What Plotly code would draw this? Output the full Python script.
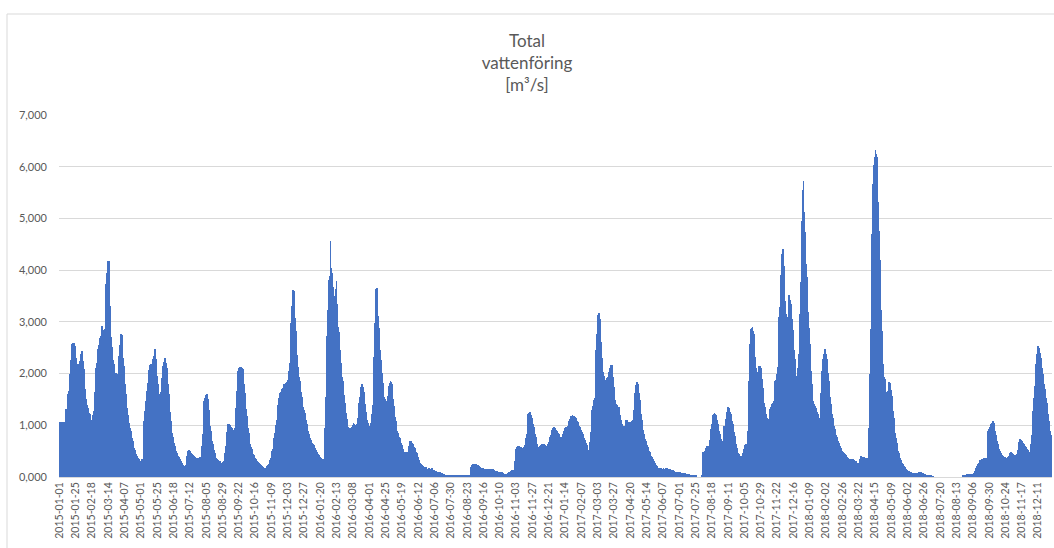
import pandas as pd
import plotly.graph_objects as go

# Daily total discharge [m3/s], one list per calendar year (10 days per row)
flow_2015 = [
    1060, 1060, 1060, 1060, 1060, 1060, 1060, 1060, 1060, 1060,
    1310, 1310, 1535, 1600, 1665, 1830, 2000, 2270, 2535, 2580,
    2600, 2600, 2600, 2535, 2420, 2310, 2180, 2050, 2120, 2180,
    2250, 2310, 2380, 2440, 2340, 2245, 2080, 1920, 1710, 1500,
    1450, 1400, 1330, 1265, 1240, 1210, 1150, 1085, 1100, 1115,
    1200, 1280, 1640, 1990, 2100, 2210, 2340, 2470, 2550, 2630,
    2680, 2730, 2820, 2920, 2840, 2760, 2810, 2860, 3300, 3730,
    3940, 4150, 4180, 4180, 3750, 3310, 2700, 2520, 2340, 2260,
    2180, 2100, 2020, 2010, 2000, 1995, 1990, 2160, 2340, 2550,
    2760, 2760, 2750, 2530, 2310, 2150, 1990, 1800, 1600, 1470,
    1340, 1200, 1050, 1000, 955, 890, 825, 760, 700, 630,
    570, 520, 470, 440, 405, 380, 360, 340, 320, 300,
    280, 310, 340, 350, 360, 1085, 1280, 1470, 1570, 1665,
    1810, 1955, 2060, 2170, 2170, 2180, 2180, 2230, 2290, 2340,
    2400, 2470, 2290, 2115, 1950, 1795, 1700, 1600, 1490, 1375,
    1650, 1920, 2040, 2150, 2230, 2300, 2300, 2200, 2115, 1950,
    1795, 1600, 1405, 1250, 1085, 970, 860, 780, 700, 650,
    600, 550, 505, 470, 440, 415, 390, 365, 340, 310,
    280, 260, 240, 215, 200, 180, 230, 280, 400, 505,
    510, 515, 500, 490, 470, 450, 440, 425, 415, 405,
    390, 375, 370, 360, 370, 375, 380, 390, 380, 375,
    600, 825, 1150, 1470, 1520, 1570, 1590, 1600, 1550, 1505,
    1300, 1085, 990, 890, 800, 700, 630, 570, 520, 470,
    390, 365, 340, 325, 310, 305, 300, 290, 280, 270,
    260, 285, 310, 390, 470, 590, 700, 870, 1030, 1025,
    1020, 1000, 985, 970, 955, 910, 860, 910, 955, 1150,
    1340, 1660, 1990, 2050, 2115, 2120, 2130, 2130, 2130, 2110,
    2085, 1940, 1795, 1630, 1470, 1320, 1180, 1070, 955, 860,
    760, 630, 580, 535, 490, 450, 420, 390, 365, 340,
    325, 310, 295, 280, 270, 260, 245, 230, 220, 215,
    200, 180, 175, 170, 180, 195, 210, 230, 255, 280,
    330, 375, 440, 505, 550, 640, 760, 850, 900, 1000,
    1100, 1250, 1400, 1530, 1580, 1620, 1650, 1670, 1695, 1730,
    1760, 1790, 1800, 1810, 1830, 1845, 1880, 1910, 2050, 2200,
    2600, 2980, 3300, 3625, 3610, 3590, 3330, 3075, 2830, 2590,
    2360, 2135, 2040, 1940, 1850, 1750, 1650, 1555, 1460, 1360,
    1300, 1230, 1160, 1100, 1020,
]

flow_2016 = [
    940, 890, 840, 790, 745, 710, 680, 660, 645, 630,
    615, 570, 545, 520, 490, 465, 440, 420, 405, 390,
    370, 355, 345, 335, 345, 355, 950, 1555, 2140, 2720,
    3220, 3720, 3800, 3885, 4560, 4045, 3950, 3850, 3670, 3495,
    3495, 3495, 3640, 3785, 3350, 2910, 2810, 2720, 2460, 2200,
    2070, 1940, 1850, 1750, 1590, 1425, 1330, 1230, 1130, 1035,
    970, 905, 920, 940, 945, 950, 970, 1010, 1050, 1030,
    1005, 960, 920, 1030, 1135, 1280, 1425, 1550, 1685, 1740,
    1800, 1780, 1750, 1650, 1555, 1410, 1260, 1180, 1100, 1050,
    1005, 990, 970, 1000, 1035, 1210, 1390, 1860, 2330, 2980,
    3625, 3640, 3655, 3380, 3105, 2880, 2655, 2460, 2265, 2100,
    2005, 1810, 1680, 1555, 1500, 1480, 1470, 1420, 1370, 1560,
    1765, 1810, 1860, 1830, 1800, 1650, 1500, 1370, 1240, 1160,
    1080, 980, 880, 850, 815, 780, 750, 700, 655, 620,
    590, 540, 490, 490, 490, 490, 490, 490, 490, 590,
    685, 700, 705, 680, 655, 630, 600, 580, 555, 520,
    490, 460, 425, 380, 330, 295, 275, 260, 245, 230,
    220, 210, 200, 195, 185, 175, 160, 145, 155, 165,
    155, 145, 155, 165, 145, 130, 130, 130, 125, 120,
    110, 100, 100, 100, 100, 90, 85, 80, 70, 65,
    55, 50, 45, 40, 35, 35, 35, 35, 35, 35,
    35, 35, 35, 35, 35, 0, 35, 35, 0, 35,
    35, 35, 35, 35, 35, 35, 35, 35, 35, 35,
    35, 35, 35, 35, 35, 35, 35, 35, 35, 35,
    120, 195, 225, 250, 255, 260, 260, 260, 260, 250,
    240, 230, 220, 210, 195, 180, 178, 175, 170, 165,
    158, 150, 150, 150, 150, 150, 150, 150, 150, 150,
    150, 150, 150, 150, 145, 145, 120, 120, 120, 120,
    105, 105, 105, 105, 100, 90, 90, 80, 80, 65,
    65, 50, 50, 50, 65, 80, 100, 105, 105, 115,
    115, 130, 130, 115, 115, 300, 510, 545, 575, 590,
    605, 605, 595, 585, 580, 575, 560, 540, 555, 575,
    620, 670, 750, 835, 1030, 1225, 1240, 1255, 1220, 1190,
    1140, 1095, 1030, 965, 900, 835, 770, 705, 640, 575,
    575, 575, 590, 605, 620, 640, 630, 625, 630, 640,
    620, 605, 605, 605, 640, 670, 720, 770, 820, 865,
    905, 945, 955, 965, 945, 930,
]

flow_2017 = [
    900, 880, 865, 850, 835, 800, 770, 740, 705, 770,
    835, 880, 930, 950, 965, 950, 930, 980, 1030, 1080,
    1125, 1150, 1175, 1180, 1190, 1180, 1175, 1165, 1160, 1135,
    1110, 1085, 1060, 1030, 995, 960, 930, 900, 865, 830,
    800, 760, 715, 680, 650, 620, 585, 520, 500, 475,
    670, 865, 1080, 1290, 1370, 1455, 1490, 1520, 1990, 2460,
    2770, 3080, 3130, 3180, 3050, 2920, 2610, 2300, 2170, 2040,
    1960, 1875, 1875, 1875, 1890, 1910, 1940, 1975, 2040, 2100,
    2170, 2170, 2170, 2050, 1940, 1750, 1550, 1480, 1420, 1390,
    1355, 1355, 1355, 1270, 1190, 1110, 1060, 1030, 980, 930,
    960, 995, 1050, 1110, 1095, 1080, 1060, 1040, 1050, 1060,
    1050, 1040, 1075, 1110, 1300, 1485, 1630, 1780, 1810, 1845,
    1800, 1745, 1620, 1485, 1350, 1225, 1110, 995, 915, 835,
    785, 735, 700, 670, 620, 575, 540, 510, 480, 445,
    410, 380, 350, 325, 300, 280, 250, 225, 215, 195,
    180, 175, 170, 168, 165, 158, 150, 158, 165, 158,
    150, 158, 165, 165, 165, 160, 155, 150, 145, 130,
    130, 130, 130, 115, 115, 105, 105, 105, 105, 90,
    90, 90, 90, 85, 85, 85, 85, 80, 80, 70,
    70, 65, 65, 60, 60, 50, 50, 45, 45, 40,
    40, 40, 40, 35, 35, 25, 25, 0, 0, 0,
    0, 0, 0, 0, 0, 20, 475, 475, 495, 510,
    560, 605, 605, 605, 605, 605, 720, 835, 930, 1030,
    1110, 1190, 1215, 1240, 1215, 1190, 1150, 1095, 1020, 965,
    890, 830, 765, 730, 700, 635, 900, 990, 990, 990,
    1120, 1250, 1300, 1345, 1330, 1310, 1260, 1215, 1150, 1085,
    1020, 955, 875, 795, 715, 635, 570, 505, 470, 440,
    415, 390, 400, 405, 440, 470, 540, 600, 620, 635,
    635, 635, 880, 1120, 1850, 2575, 2720, 2865, 2880, 2895,
    2830, 2765, 2540, 2315, 2100, 2000, 1925, 2040, 2150, 2150,
    2150, 2100, 2055, 1890, 1730, 1590, 1440, 1360, 1280, 1210,
    1150, 1070, 990, 1130, 1280, 1310, 1345, 1380, 1410, 1440,
    1475, 1670, 1860, 1880, 1895, 2000, 2120, 2600, 3090, 3280,
    3480, 3900, 4320, 4370, 4415, 4080, 3735, 3400, 3155, 2900,
    2830, 3100, 3285, 3510, 3430, 3350, 3200, 3060, 2850, 2635,
    2460, 2280, 2120, 1960, 1900, 1830, 2100, 2380, 2770, 3155,
    3770, 4385, 4960, 5545, 5730,
]

flow_2018 = [
    5125, 4740, 4350, 4110, 3865, 3520, 3185, 2880, 2575, 2320,
    2055, 1800, 1540, 1470, 1410, 1390, 1375, 1330, 1280, 1250,
    1215, 1150, 1085, 1150, 1215, 1630, 2055, 2170, 2280, 2380,
    2475, 2475, 2380, 2280, 2185, 2020, 1860, 1700, 1540, 1410,
    1280, 1215, 1150, 1070, 990, 925, 860, 810, 765, 730,
    700, 665, 635, 600, 570, 540, 505, 490, 470, 455,
    440, 420, 405, 390, 375, 360, 345, 345, 345, 345,
    345, 345, 345, 335, 325, 318, 310, 295, 280, 270,
    260, 280, 340, 405, 400, 390, 390, 390, 380, 375,
    375, 375, 375, 375, 375, 955, 1470, 1990, 2860, 3735,
    4700, 5675, 5850, 6030, 6180, 6320, 6250, 6190, 5750, 5320,
    4750, 4190, 3700, 3220, 2830, 2445, 2180, 1925, 1910, 1895,
    1650, 1410, 1540, 1670, 1750, 1830, 1815, 1800, 1690, 1570,
    1420, 1280, 1150, 1020, 860, 760, 665, 585, 505, 455,
    405, 365, 325, 300, 280, 255, 235, 215, 195, 175,
    160, 145, 130, 120, 115, 105, 95, 90, 85, 80,
    80, 70, 65, 70, 80, 70, 65, 85, 105, 95,
    85, 90, 95, 85, 80, 70, 65, 55, 50, 45,
    40, 35, 30, 25, 25, 25, 25, 20, 18, 15,
    0, 0, 0, 0, 0, 0, 0, 0, 0, 0,
    0, 0, 0, 0, 0, 0, 0, 0, 0, 0,
    0, 0, 0, 0, 0, 0, 0, 0, 0, 0,
    0, 0, 0, 0, 0, 0, 0, 0, 0, 0,
    0, 0, 0, 20, 25, 30, 35, 40, 45, 50,
    50, 50, 50, 50, 50, 50, 50, 50, 50, 50,
    80, 115, 150, 180, 210, 245, 260, 280, 300, 325,
    335, 345, 350, 355, 360, 360, 360, 360, 360, 375,
    890, 910, 925, 960, 990, 1020, 1050, 1070, 1085, 1040,
    990, 890, 820, 760, 690, 630, 580, 535, 500, 470,
    445, 425, 415, 405, 395, 385, 380, 375, 365, 360,
    380, 405, 440, 470, 480, 485, 465, 450, 435, 425,
    415, 405, 420, 440, 520, 600, 670, 730, 720, 710,
    695, 685, 665, 645, 620, 600, 585, 570, 540, 515,
    500, 490, 470, 550, 630, 820, 1020, 1280, 1535, 1760,
    1985, 2180, 2375, 2460, 2535, 2500, 2470, 2390, 2310, 2210,
    2115, 2000, 1890, 1790, 1695, 1620, 1535, 1440, 1340, 1210,
    1085, 990, 890, 820, 760,
]

y_tick_values = [0, 1000, 2000, 3000, 4000, 5000, 6000, 7000]
y_tick_labels = ["0,000", "1,000", "2,000", "3,000", "4,000", "5,000", "6,000", "7,000"]

assert len(flow_2015) == 365 and len(flow_2016) == 366
assert len(flow_2017) == 365 and len(flow_2018) == 365

days = pd.date_range("2015-01-01", "2018-12-31", freq="D").strftime("%Y-%m-%d").tolist()
flow = flow_2015 + flow_2016 + flow_2017 + flow_2018
x_tick_labels = days[::24]

W, H = 1054, 548
ML, MR, MT, MB = 59, 2, 115, 71
pw, ph = W - ML - MR, H - MT - MB

text_color = "#595959"
grid_color = "#D9D9D9"
font_family = "Lato, 'Open Sans', sans-serif"

fig = go.Figure(
    go.Bar(
        x=days,
        y=flow,
        marker=dict(color="#4472C4", line=dict(width=0)),
        hoverinfo="x+y",
    )
)

# light frame around the whole chart area
fig.add_shape(
    type="rect", xref="paper", yref="paper",
    x0=(7 - ML) / pw, x1=(W + 10 - ML) / pw,
    y0=-(H + 10 - MT - ph) / ph, y1=(H - MB - 14) / ph,
    line=dict(color=grid_color, width=1), fillcolor="rgba(0,0,0,0)",
    layer="below",
)

fig.update_layout(
    width=W, height=H,
    margin=dict(l=ML, r=MR, t=MT, b=MB, autoexpand=False),
    paper_bgcolor="white", plot_bgcolor="white",
    font=dict(family=font_family, color=text_color),
    bargap=0,
    showlegend=False,
    title=dict(
        text="Total<br>vattenföring<br>[m³/s]",
        x=0.5, xanchor="center", xref="container",
        y=1 - 47 / H, yanchor="top", yref="container",
        font=dict(size=17, color=text_color, family=font_family),
    ),
    xaxis=dict(
        type="category",
        tickmode="array",
        tickvals=x_tick_labels,
        ticktext=x_tick_labels,
        tickangle=-90,
        tickfont=dict(size=10.5, color=text_color),
        showgrid=False,
        showline=True, linecolor=grid_color, linewidth=1,
        ticks="",
        automargin=False,
        range=[-0.5, len(days) - 0.5],
    ),
    yaxis=dict(
        range=[0, 7000],
        tickmode="array",
        tickvals=y_tick_values,
        ticktext=y_tick_labels,
        tickfont=dict(size=11, color=text_color),
        showgrid=True, gridcolor=grid_color, gridwidth=1,
        zeroline=False,
        showline=False,
        ticks="",
        ticklabelstandoff=11,
        automargin=False,
    ),
)

fig.write_html("out.html")
